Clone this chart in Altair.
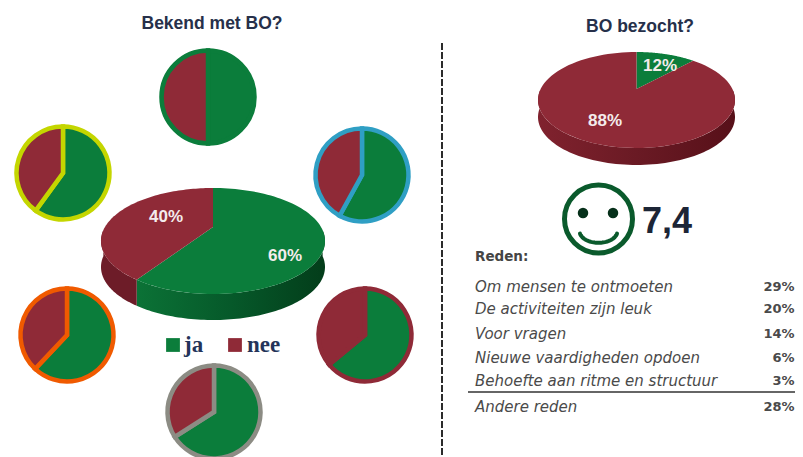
import math
import altair as alt
import pandas as pd

# ---- values ----
small_pie_ja = [50, 60, 58, 62, 64, 66]
big_pie_shares = [60, 40]
big_pie_labels = ["60%", "40%"]
visit_shares = [12, 88]
visit_labels = ["12%", "88%"]
score = "7,4"
reasons = ["Om mensen te ontmoeten", "De activiteiten zijn leuk", "Voor vragen",
           "Nieuwe vaardigheden opdoen", "Behoefte aan ritme en structuur", "Andere reden"]
reason_pct = ["29%", "20%", "14%", "6%", "3%", "28%"]
legend_names = ["ja", "nee"]

# ---- styling / layout ----
GREEN, RED = "#0b7d3b", "#8f2a37"
W, H = 787, 449
ring_colors = ["#0b7d3b", "#c4d600", "#2f9fc4", "#f05a00", "#8f2a37", "#8c8c84"]
ring_centers = [(208, 97), (63, 173), (362, 175), (67, 335), (365, 335), (214, 412)]
NAVY = "#26304a"


def warp(t):
    # foreshortening of a tilted pie: the far side is squeezed, the near side opened
    return t - math.radians(11.8) * math.sin(t)


def pt(t, ry_ratio, dy=0.0):
    p = warp(t)
    return math.sin(p), -math.cos(p) * ry_ratio + dy


def poly(points):
    return "M" + "L".join(f"{x:.4f},{y:.4f}" for x, y in points) + "Z"


def angles(a, b, n=90):
    return [a + (b - a) * i / n for i in range(n + 1)]


def wedge_path(a, b, ratio, vert):
    return poly([(0, vert)] + [pt(t, ratio) for t in angles(a, b)])


def wall_path(a, b, ratio, depth):
    # visible part of the rim: only the near half (90 to 270 degrees clockwise from the top)
    lo, hi = max(a, math.pi / 2), min(b, 3 * math.pi / 2)
    if hi <= lo:
        return None
    ts = angles(lo, hi)
    top = [pt(t, ratio) for t in ts]
    bottom = [pt(t, ratio, depth) for t in reversed(ts)]
    return poly(top + bottom)


def gradient(c0, c1, c2):
    return alt.LinearGradient(gradient="linear", x1=0, x2=1, y1=0, y2=0, stops=[
        alt.GradientStop(offset=0, color=c0),
        alt.GradientStop(offset=0.5, color=c1),
        alt.GradientStop(offset=1, color=c2)])


anchor = pd.DataFrame({"k": [0]})


def shape_mark(path, cx, cy, rx, fill=None, stroke=None, sw=0):
    kw = dict(shape=path, size=(2 * rx) ** 2, opacity=1)
    if fill is not None:
        kw.update(filled=True, fill=fill, strokeWidth=0)
    else:
        kw.update(filled=False, stroke=stroke, strokeWidth=sw, strokeCap="round", fillOpacity=0)
    return alt.Chart(anchor).mark_point(**kw).encode(
        x=alt.value(cx - 8), y=alt.value(cy - 8))


def pie3d(shares, cx, cy, rx, ry, depth, vert, wall_colors):
    ratio, d, vr = ry / rx, depth / rx, vert / rx
    layers, start = [], 0.0
    total = sum(shares)
    spans = []
    for s in shares:
        end = start + 2 * math.pi * s / total
        spans.append((start, end))
        start = end
    for (a, b), wc in zip(spans, wall_colors):
        w = wall_path(a, b, ratio, d)
        if w:
            layers.append(shape_mark(w, cx, cy, rx, fill=wc))
    for (a, b), col in zip(spans, [GREEN, RED]):
        layers.append(shape_mark(wedge_path(a, b, ratio, vr), cx, cy, rx, fill=col))
    return layers


layers = []

# ring pies
for ja, col, (cx, cy) in zip(small_pie_ja, ring_colors, ring_centers):
    df = pd.DataFrame({"v": [ja, 100 - ja], "k": [0, 1], "c": [GREEN, RED]})
    layers.append(alt.Chart(df).mark_arc(radius=46.5, stroke=col, strokeWidth=4.5, strokeJoin="miter").encode(
        theta=alt.Theta("v:Q", stack=True, scale=alt.Scale(domain=[0, 100])),
        order=alt.Order("k:O"),
        fill=alt.Fill("c:N", scale=None),
        x=alt.value(cx - 8), y=alt.value(cy - 8)))

# 3D pies
layers += pie3d(big_pie_shares, 213, 241, 112, 53, 26, -14,
                [gradient("#0b7236", "#06592a", "#033d1a"), "#6d1c28"])
layers += pie3d(visit_shares, 636.5, 100, 98.5, 48, 17, -11,
                ["#0b7236", gradient("#80222e", "#6a1a24", "#571019")])

# dashed divider and table rule
lines = pd.DataFrame({"x": [442 - 8, 468 - 8], "y": [43 - 8, 392 - 8],
                      "x2": [442 - 8, 795 - 8], "y2": [457 - 8, 392 - 8]})
layers.append(alt.Chart(lines.iloc[[0]]).mark_rule(color="#2b2b2b", strokeWidth=2, strokeDash=[7, 2]).encode(
    x=alt.X("x:Q", scale=None), y=alt.Y("y:Q", scale=None), y2="y2:Q"))
layers.append(alt.Chart(lines.iloc[[1]]).mark_rule(color="#666666", strokeWidth=2).encode(
    x=alt.X("x:Q", scale=None), x2="x2:Q", y=alt.Y("y:Q", scale=None)))

# legend swatches
swatches = pd.DataFrame({"x": [173 - 8, 235 - 8], "y": [345 - 8, 345 - 8], "c": [GREEN, RED]})
layers.append(alt.Chart(swatches).mark_square(size=190, opacity=1).encode(
    x=alt.X("x:Q", scale=None), y=alt.Y("y:Q", scale=None), fill=alt.Fill("c:N", scale=None)))

# smiley
layers.append(alt.Chart(anchor).mark_point(shape="circle", size=68 ** 2, filled=False, stroke="#0a5a2c",
                                           strokeWidth=5, opacity=1).encode(
    x=alt.value(598.5 - 8), y=alt.value(219 - 8)))
eyes = pd.DataFrame({"x": [583 - 8, 613 - 8], "y": [213 - 8, 213 - 8]})
layers.append(alt.Chart(eyes).mark_circle(size=110, color="#06301a", opacity=1).encode(
    x=alt.X("x:Q", scale=None), y=alt.Y("y:Q", scale=None)))
smile = poly([(math.sin(t), math.cos(t) * 0.62) for t in angles(-1.35, 1.35, 40)]).rstrip("Z")
layers.append(shape_mark(smile, 598.5, 231, 19, stroke="#0a5a2c", sw=4))


def text_layer(items, **style):
    df = pd.DataFrame(items, columns=["t", "x", "y"])
    df["x"] -= 8
    df["y"] -= 8
    return alt.Chart(df).mark_text(baseline="middle", **style).encode(
        x=alt.X("x:Q", scale=None), y=alt.Y("y:Q", scale=None), text="t:N")


SANS = "Liberation Sans"
layers.append(text_layer([("Bekend met BO?", 212, 24), ("BO bezocht?", 640, 27)],
                         font=SANS, fontSize=17.5, fontWeight="bold", color=NAVY, align="center"))
layers.append(text_layer([(big_pie_labels[1], 166, 217), (big_pie_labels[0], 285, 256),
                          (visit_labels[0], 660, 66), (visit_labels[1], 605, 121)],
                         font=SANS, fontSize=17, fontWeight="bold", color="#f4ecec", align="center"))
layers.append(text_layer([(legend_names[0], 184, 345), (legend_names[1], 247, 345)],
                         font="Liberation Serif", fontSize=23, fontWeight="bold", color="#24345a", align="left"))
layers.append(text_layer([(score, 642, 222)], font=SANS, fontSize=36, fontWeight="bold",
                         color="#1c2536", align="left"))
layers.append(text_layer([("Reden:", 475, 257)], font="DejaVu Sans", fontSize=13.5, fontWeight="bold",
                         color="#444444", align="left"))
row_y = [287, 309, 334, 358, 381, 407]
layers.append(text_layer(list(zip(reasons, [475] * 6, row_y)), font="DejaVu Sans", fontSize=15,
                         fontStyle="italic", color="#4a4a4a", align="left"))
layers.append(text_layer(list(zip(reason_pct, [794.5] * 6, row_y)), font="DejaVu Sans", fontSize=13,
                         fontWeight="bold", color="#4a4a4a", align="right"))

chart = alt.layer(*layers).properties(
    width=W, height=H, padding=0, autosize=alt.AutoSizeParams(type="none"),
    background="white"
).configure_view(stroke=None)

chart.save("out.html", embed_options={"renderer": "svg", "actions": False})
